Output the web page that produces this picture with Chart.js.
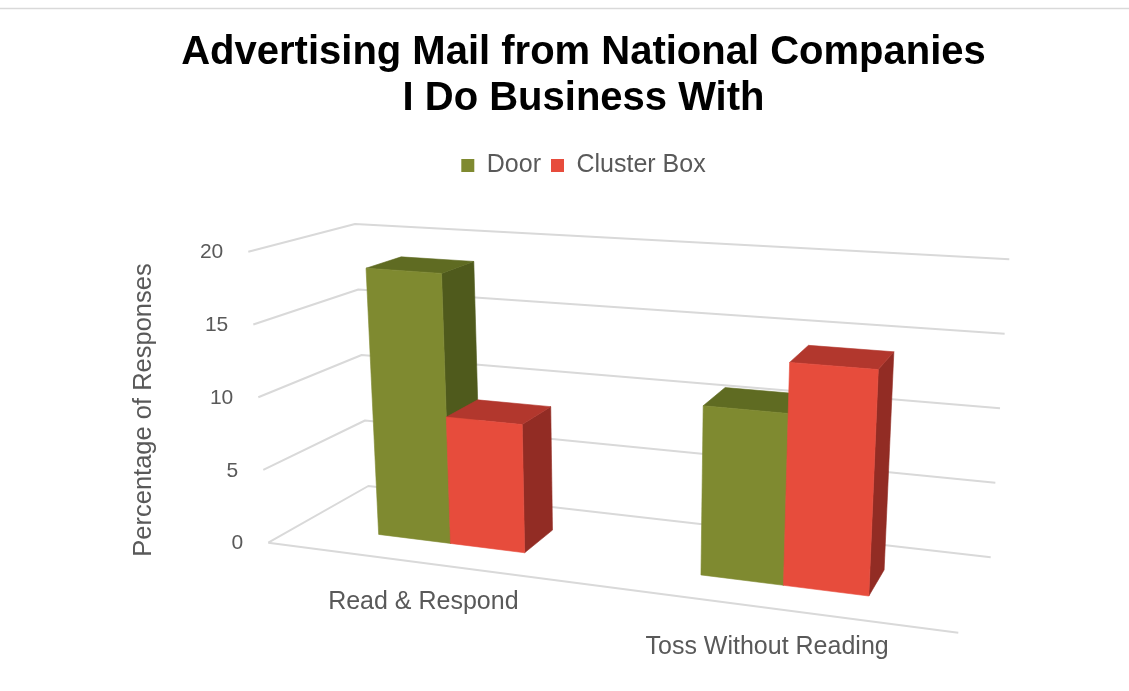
<!DOCTYPE html>
<html>
<head>
<meta charset="utf-8">
<title>Advertising Mail from National Companies</title>
<script src="https://cdn.jsdelivr.net/npm/chart.js@4.4.1/dist/chart.umd.min.js"></script>
<style>
  html, body { margin: 0; padding: 0; background: #ffffff; overflow: hidden; }
  canvas { display: block; }
</style>
</head>
<body>
<canvas id="chart" width="1129" height="691"></canvas>
<script>
// ---- data ----
const categories = ['Read & Respond', 'Toss Without Reading'];
const seriesNames = ['Door', 'Cluster Box'];
const doorValues = [18.6, 11.1];
const clusterValues = [8.7, 14.4];
const yTicks = [0, 5, 10, 15, 20];

// ---- 3D box geometry ----
// Screen positions of the plot box corners.
// f/b = front/back, 0/1 = floor/top of the value range, l/r = left/right end.
const BOX = {
  f0l: [268.3, 542.7], f1l: [248.3, 251.7],
  b0l: [368.3, 486.0], b1l: [355.0, 224.0],
  f0r: [958.3, 632.7], f1r: [977.0, 302.0],
  b0r: [990.7, 557.3], b1r: [1009.3, 259.3]
};
const PERSPECTIVE_Q = 1.15;   // horizontal foreshortening
const DEPTH_FRONT = 0.32;     // bar depth range inside the box
const DEPTH_BACK = 0.68;

const FONT = "'Liberation Sans', Arial, Helvetica, sans-serif";
const TEXT_GRAY = '#595959';
const GRID_GRAY = '#D9D9D9';

const faceColors = [
  { front: '#7F8A30', top: '#5F6B22', side: '#4F5A1C' },
  { front: '#E74C3C', top: '#B2372D', side: '#922C24' }
];

function warpU(u) {
  return u / (PERSPECTIVE_Q + (1 - PERSPECTIVE_Q) * u);
}
function lerp(a, b, t) {
  return [a[0] + (b[0] - a[0]) * t, a[1] + (b[1] - a[1]) * t];
}
// u: 0..1 across categories, v: 0..1 along the value axis, w: 0 front .. 1 back
function project(u, v, w) {
  const g = warpU(u);
  const f0 = lerp(BOX.f0l, BOX.f0r, g), f1 = lerp(BOX.f1l, BOX.f1r, g);
  const b0 = lerp(BOX.b0l, BOX.b0r, g), b1 = lerp(BOX.b1l, BOX.b1r, g);
  return lerp(lerp(f0, f1, v), lerp(b0, b1, v), w);
}
// Convert the library's scale pixels into box coordinates
function toU(chart, px) {
  const a = chart.chartArea;
  return (px - a.left) / (a.right - a.left);
}
function toV(chart, py) {
  const ys = chart.scales.y;
  const p0 = ys.getPixelForValue(ys.min);
  const p1 = ys.getPixelForValue(ys.max);
  return (p0 - py) / (p0 - p1);
}

function fillPoly(ctx, pts, color) {
  ctx.beginPath();
  ctx.moveTo(pts[0][0], pts[0][1]);
  for (let i = 1; i < pts.length; i++) ctx.lineTo(pts[i][0], pts[i][1]);
  ctx.closePath();
  ctx.fillStyle = color;
  ctx.strokeStyle = color;
  ctx.lineWidth = 0.6;
  ctx.fill();
  ctx.stroke();
}

// Draws one bar element as a cuboid using its scale-computed geometry
function drawCuboid(chart, el, ctx, colors) {
  const u1 = toU(chart, el.x - el.width / 2);
  const u2 = toU(chart, el.x + el.width / 2);
  const v0 = toV(chart, el.base);
  const v1 = toV(chart, el.y);
  const w0 = DEPTH_FRONT, w1 = DEPTH_BACK;
  ctx.save();
  fillPoly(ctx, [project(u2, v0, w0), project(u2, v0, w1), project(u2, v1, w1), project(u2, v1, w0)], colors.side);
  fillPoly(ctx, [project(u1, v1, w0), project(u2, v1, w0), project(u2, v1, w1), project(u1, v1, w1)], colors.top);
  fillPoly(ctx, [project(u1, v0, w0), project(u2, v0, w0), project(u2, v1, w0), project(u1, v1, w0)], colors.front);
  ctx.restore();
}

// Bars are collected while the controllers draw them, then painted
// left to right so the nearer (right-hand) faces overlap correctly.
let barQueue = [];

const box3dPlugin = {
  id: 'box3d',
  beforeDraw(chart) {
    const ctx = chart.ctx;
    ctx.save();
    ctx.strokeStyle = GRID_GRAY;
    ctx.lineWidth = 1.5;
    ctx.beginPath();
    ctx.moveTo(0, 8.5);
    ctx.lineTo(chart.width, 8.5);
    ctx.stroke();
    ctx.restore();
  },
  beforeDatasetsDraw(chart) {
    const ctx = chart.ctx;
    const ys = chart.scales.y;
    const xs = chart.scales.x;

    barQueue = [];
    chart.data.datasets.forEach((ds, di) => {
      const meta = chart.getDatasetMeta(di);
      meta.data.forEach(el => {
        el.draw = function () { barQueue.push({ el: this, colors: faceColors[di] }); };
      });
    });

    ctx.save();
    // side wall and back wall gridlines
    ctx.strokeStyle = GRID_GRAY;
    ctx.lineWidth = 2;
    ctx.lineJoin = 'round';
    yTicks.forEach(t => {
      const v = toV(chart, ys.getPixelForValue(t));
      const a = project(0, v, 0), b = project(0, v, 1), c = project(1, v, 1);
      ctx.beginPath();
      ctx.moveTo(a[0], a[1]);
      ctx.lineTo(b[0], b[1]);
      ctx.lineTo(c[0], c[1]);
      ctx.stroke();
    });
    // front edge of the floor (category axis line)
    const f0 = project(0, 0, 0), f1 = project(1, 0, 0);
    ctx.beginPath();
    ctx.moveTo(f0[0], f0[1]);
    ctx.lineTo(f1[0], f1[1]);
    ctx.stroke();

    // value tick labels
    ctx.fillStyle = TEXT_GRAY;
    ctx.font = '21px ' + FONT;
    ctx.textAlign = 'right';
    ctx.textBaseline = 'middle';
    yTicks.forEach(t => {
      const v = toV(chart, ys.getPixelForValue(t));
      const p = project(0, v, 0);
      ctx.fillText(String(t), p[0] - 25, p[1] + 1);
    });

    // category labels under the front edge
    ctx.font = '25px ' + FONT;
    ctx.textAlign = 'center';
    categories.forEach((cat, i) => {
      const u = toU(chart, xs.getPixelForValue(i));
      const p = project(u, 0, 0);
      ctx.fillText(cat, p[0], p[1] + 39);
    });

    // value axis title
    ctx.save();
    ctx.translate(144, 410);
    ctx.rotate(-Math.PI / 2);
    ctx.font = '25.5px ' + FONT;
    ctx.fillText('Percentage of Responses', 0, 0);
    ctx.restore();

    ctx.restore();
  },
  afterDatasetsDraw(chart) {
    const ctx = chart.ctx;
    barQueue.sort((a, b) => a.el.x - b.el.x);
    barQueue.forEach(item => drawCuboid(chart, item.el, ctx, item.colors));
    barQueue = [];
  }
};

new Chart(document.getElementById('chart'), {
  type: 'bar',
  data: {
    labels: categories,
    datasets: [
      {
        label: seriesNames[0],
        data: doorValues,
        backgroundColor: faceColors[0].front,
        borderWidth: 0,
        clip: false
      },
      {
        label: seriesNames[1],
        data: clusterValues,
        backgroundColor: faceColors[1].front,
        borderWidth: 0,
        clip: false
      }
    ]
  },
  options: {
    responsive: false,
    animation: false,
    events: [],
    layout: { padding: { left: 38, right: 0, top: 0, bottom: 0 } },
    datasets: {
      bar: { categoryPercentage: 0.47, barPercentage: 1.0 }
    },
    scales: {
      x: { display: false, offset: true },
      y: { display: false, min: 0, max: 20, ticks: { stepSize: 5 } }
    },
    plugins: {
      title: {
        display: true,
        text: ['Advertising Mail from National Companies', 'I Do Business With'],
        color: '#000000',
        font: { family: FONT, size: 40, weight: 'bold', lineHeight: 1.15 },
        padding: { top: 30, bottom: 21 }
      },
      legend: {
        display: true,
        position: 'top',
        labels: {
          color: TEXT_GRAY,
          font: { family: FONT, size: 25 },
          boxWidth: 13,
          boxHeight: 13,
          padding: 10
        }
      },
      tooltip: { enabled: false }
    }
  },
  plugins: [box3dPlugin]
});
</script>
</body>
</html>
